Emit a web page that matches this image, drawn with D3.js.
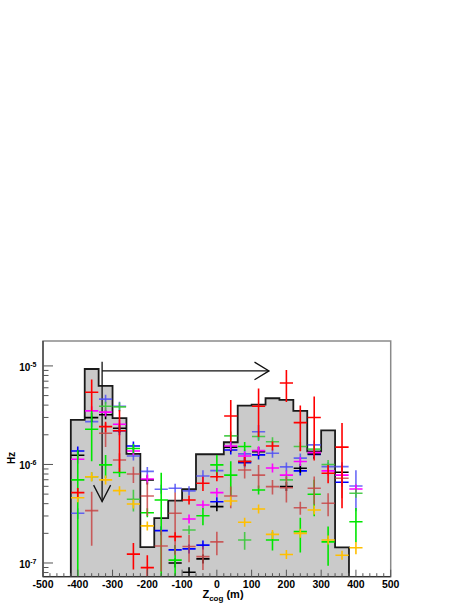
<!DOCTYPE html>
<html><head><meta charset="utf-8">
<script src="https://cdn.jsdelivr.net/npm/d3@7"></script>
<style>body{margin:0;background:#fff}svg{display:block}</style>
</head><body><svg id="c" width="469" height="607"></svg>
<script>
// ---------- data ----------
const binEdges = [-420,-380,-340,-300,-260,-220,-180,-140,-100,-60,-20,20,60,100,140,180,220,260,300,340,380];
const histValues = [2.83e-6,9.3e-6,6.27e-6,2.95e-6,1.28e-6,1.45e-7,2.86e-7,4.29e-7,5.6e-7,1.27e-6,1.27e-6,1.68e-6,3.95e-6,4.05e-6,4.7e-6,4.52e-6,3.5e-6,1.36e-6,2.22e-6,1.44e-7];
const centers = [-400,-360,-320,-280,-240,-200,-160,-120,-80,-40,0,40,80,120,160,200,240,280,320,360,400];
const halfWidth = 19;
const xTicks = [-500,-400,-300,-200,-100,0,100,200,300,400,500];
const yTickExps = [-7,-6,-5];

const blackVals = [1.24e-6,2.99e-6,3.2e-6,2.33e-6,null,6.97e-7,null,1.0e-7,8.05e-8,1.1e-7,3.73e-7,1.5e-6,1.07e-6,1.35e-6,null,5.96e-7,9.15e-7,1.28e-6,null,8.34e-7,null];
const blackErr  = [0.06e-6,0.15e-6,0.15e-6,0.1e-6,null,0.3e-7,null,0.08e-7,0.1e-7,0.08e-7,0.2e-7,0.08e-6,0.05e-6,0.06e-6,null,0.3e-7,0.4e-7,0.06e-6,null,0.4e-7,null];

const magentaVals = [1.13e-6,3.5e-6,3.4e-6,2.56e-6,1.37e-6,7.13e-7,null,null,2.8e-7,3.88e-7,5.18e-7,1.54e-6,1.22e-6,1.38e-6,9.2e-7,7.8e-7,1.07e-6,1.32e-6,8.6e-7,7.8e-7,5.64e-7];
const magentaErr  = [0.06e-6,0.15e-6,0.15e-6,0.1e-6,0.07e-6,0.3e-7,null,null,0.15e-7,0.2e-7,0.25e-7,0.08e-6,0.06e-6,0.07e-6,0.4e-7,0.4e-7,0.05e-6,0.06e-6,0.4e-7,0.4e-7,0.3e-7];

const blueVals = [1.37e-6,null,null,2.2e-6,1.54e-6,null,2.13e-7,1.36e-7,1.39e-7,1.52e-7,4.19e-7,1.4e-6,1.04e-6,1.25e-6,null,null,8.6e-7,1.26e-6,null,6.6e-7,null];
const blueErr  = [0.07e-6,null,null,0.1e-6,0.07e-6,null,0.1e-7,0.07e-7,0.07e-7,0.08e-7,0.2e-7,0.07e-6,0.05e-6,0.06e-6,null,null,0.4e-7,0.06e-6,null,0.3e-7,null];

const lightBlueVals = [3.2e-7,2.72e-6,4.6e-6,3.9e-6,1.22e-6,8.5e-7,5.6e-7,5.73e-7,5.4e-7,7.64e-7,8.65e-7,null,1.28e-6,2.15e-6,1.3e-6,9.45e-7,1.16e-6,1.58e-6,9.5e-7,9.5e-7,6.05e-7];
const lightBlueErr  = [0.4e-7,0.33e-6,0.3e-6,0.4e-6,0.1e-6,0.5e-7,0.3e-7,0.3e-7,0.3e-7,1.1e-7,0.6e-7,null,0.1e-6,0.37e-6,0.1e-6,0.6e-7,0.1e-6,0.12e-6,0.6e-7,1.0e-7,2.7e-7];

const redVals = [5.18e-7,5.4e-6,2.42e-6,2.2e-6,1.23e-7,8.97e-8,null,1.85e-7,4.36e-7,6.44e-7,7.5e-7,3.1e-6,1.07e-6,3.9e-6,1.54e-6,6.7e-6,2.66e-6,3.0e-6,8.15e-7,1.5e-6,null];
const redErr  = [0.2e-7,1.9e-6,0.3e-6,1.36e-6,0.37e-7,0.3e-7,null,0.1e-7,0.3e-7,1.06e-7,0.4e-7,1.4e-6,0.06e-6,2.0e-6,0.08e-6,2.4e-6,1.3e-6,1.9e-6,1.7e-7,1.14e-6,null];

const darkRedVals = [null,3.4e-7,2.07e-6,1.11e-6,8.0e-7,4.79e-7,1.49e-7,3.2e-7,1.47e-7,1.16e-7,1.64e-7,4.79e-7,8.8e-7,7.8e-7,5.96e-7,5.8e-7,3.64e-7,5.73e-7,4.04e-7,7.24e-7,null];
const darkRedErr  = [null,1.9e-7,0.57e-6,0.19e-6,1.5e-7,1.8e-7,0.67e-7,2.0e-7,0.45e-7,0.31e-7,0.44e-7,1.2e-7,1.6e-7,2.1e-7,1.0e-7,1.7e-7,0.55e-7,1.8e-7,1.06e-7,2.7e-7,null];

const greenVals = [6.97e-7,2.28e-6,9.9e-7,8.3e-7,1.45e-6,3.24e-7,4.36e-7,1.07e-7,null,3.02e-7,9.9e-7,7.8e-7,1.52e-6,5.5e-7,1.71e-7,null,2.08e-7,4.98e-7,1.64e-7,null,2.62e-7];
const greenErr  = [7e-7,1.2e-6,0.26e-6,0.5e-7,0.15e-6,0.3e-7,3.9e-7,0.45e-7,null,0.6e-7,0.26e-6,3e-7,0.1e-6,0.5e-7,0.37e-7,null,0.8e-7,2e-7,0.7e-7,null,1.0e-7];

const lightGreenVals = [null,7.5e-7,3.9e-6,3.84e-6,4.43e-7,null,null,null,2.16e-7,null,null,1.95e-6,1.71e-7,1.92e-6,1.7e-6,6.97e-7,1.52e-6,1.43e-6,1.0e-6,null,5.1e-7];
const lightGreenErr  = [null,0.4e-7,0.2e-6,0.4e-6,1.1e-7,null,null,null,0.2e-7,null,null,0.12e-6,0.35e-7,0.1e-6,0.1e-6,0.4e-7,0.1e-6,0.1e-6,0.06e-6,null,0.4e-7];

const yellowVals = [4.6e-7,7.5e-7,6.97e-7,5.42e-7,3.97e-7,2.38e-7,null,null,null,null,null,4.26e-7,2.59e-7,3.53e-7,1.95e-7,1.22e-7,2.0e-7,3.45e-7,1.71e-7,1.2e-7,1.43e-7];
const yellowErr  = [0.2e-7,0.3e-7,0.4e-7,0.2e-7,0.2e-7,0.1e-7,null,null,null,null,null,0.2e-7,0.15e-7,0.2e-7,0.15e-7,0.1e-7,0.15e-7,0.2e-7,0.1e-7,0.1e-7,0.2e-7];

const arrowX = [-330, 150];          // vertical arrow at x, horizontal arrow to x
const arrowVertY = [1.1e-5, 4.2e-7]; // vertical arrow from .. to
const arrowHorY = 8.9e-6;

// ---------- drawing ----------
const series = [
  {v: lightBlueVals, e: lightBlueErr, c: "#5050f5", o: 0.85},
  {v: blueVals, e: blueErr, c: "#0000ff", o: 1},
  {v: blackVals, e: blackErr, c: "#000000", o: 1},
  {v: magentaVals, e: magentaErr, c: "#ff00ff", o: 1},
  {v: lightGreenVals, e: lightGreenErr, c: "#3cc83c", o: 0.9},
  {v: greenVals, e: greenErr, c: "#00e600", o: 1},
  {v: darkRedVals, e: darkRedErr, c: "#c84646", o: 0.85},
  {v: yellowVals, e: yellowErr, c: "#ffbf00", o: 1},
  {v: redVals, e: redErr, c: "#ff0000", o: 1}
];

const L = 43, R = 390.7, T = 341, B = 576.7;
const yMin = 7.26e-8, yMax = 1.79e-5;
const x = d3.scaleLinear().domain([-500, 500]).range([L, R]);
const y = d3.scaleLog().domain([yMin, yMax]).range([B, T]);

const svg = d3.select("#c");
svg.append("defs").append("clipPath").attr("id", "clip")
  .append("rect").attr("x", L).attr("y", T).attr("width", R - L).attr("height", B - T);

const plot = svg.append("g").attr("clip-path", "url(#clip)");

// histogram
let pts = [[x(binEdges[0]), B]];
histValues.forEach((v, i) => {
  pts.push([x(binEdges[i]), y(v)]);
  pts.push([x(binEdges[i + 1]), y(v)]);
});
pts.push([x(binEdges[binEdges.length - 1]), B]);
plot.append("path").attr("d", d3.line()(pts) + "Z")
  .attr("fill", "#cacaca").attr("stroke", "none");
plot.append("path").attr("d", d3.line()(pts))
  .attr("fill", "none").attr("stroke", "#1a1a1a").attr("stroke-width", 1.8)
  .attr("stroke-linejoin", "miter");

// arrows
const ax = x(arrowX[0]);
const ay0 = y(arrowVertY[0]), ay1 = y(arrowVertY[1]);
const hy = y(arrowHorY), hx = x(arrowX[1]);
const ag = plot.append("g").attr("stroke", "#111").attr("stroke-width", 1.3).attr("fill", "none");
ag.append("line").attr("x1", ax).attr("x2", ax).attr("y1", ay0).attr("y2", ay1);
ag.append("path").attr("d", d3.line()([[ax - 8.5, ay1 - 16.5], [ax, ay1], [ax + 8.5, ay1 - 16.5]]));
ag.append("line").attr("x1", ax).attr("x2", hx).attr("y1", hy).attr("y2", hy);
ag.append("path").attr("d", d3.line()([[hx - 14.5, hy - 8.8], [hx, hy], [hx - 14.5, hy + 8.8]]));

// points with error bars
series.forEach(s => {
  const g = plot.append("g").attr("stroke", s.c).attr("stroke-opacity", s.o).attr("stroke-width", 1.6);
  s.v.forEach((v, i) => {
    if (v == null) return;
    const c = centers[i], err = s.e[i] || 0;
    const yc = y(v);
    g.append("line").attr("x1", x(c - halfWidth)).attr("x2", x(c + halfWidth)).attr("y1", yc).attr("y2", yc);
    const lo = v - err > yMin ? y(v - err) : B + 2;
    const hi = y(Math.min(v + err, yMax * 2));
    g.append("line").attr("x1", x(c)).attr("x2", x(c)).attr("y1", Math.max(lo, yc + 4.5)).attr("y2", Math.min(hi, yc - 4.5));
  });
});

// frame
svg.append("rect").attr("x", L).attr("y", T).attr("width", R - L).attr("height", B - T)
  .attr("fill", "none").attr("stroke", "#8a8a8a").attr("stroke-width", 1.5);
svg.append("line").attr("x1", L).attr("x2", L).attr("y1", T).attr("y2", B).attr("stroke", "#333").attr("stroke-width", 1.2);
svg.append("line").attr("x1", L).attr("x2", R).attr("y1", B).attr("y2", B).attr("stroke", "#333").attr("stroke-width", 1.2);

// x ticks
const tg = svg.append("g").attr("stroke", "#555").attr("stroke-width", 1);
d3.range(-500, 501, 20).forEach(t => {
  const major = t % 100 === 0;
  tg.append("line").attr("x1", x(t)).attr("x2", x(t)).attr("y1", B).attr("y2", B - (major ? 7 : 3.5));
});
// y ticks
yTickExps.forEach(e => {
  for (let m = 1; m < 10; m++) {
    const v = m * Math.pow(10, e);
    if (v < yMin || v > yMax) continue;
    tg.append("line").attr("x1", L).attr("x2", L + (m === 1 ? 10 : 5.5)).attr("y1", y(v)).attr("y2", y(v));
  }
});
for (let m = 8; m < 10; m++) {
  const v = m * 1e-8;
  if (v >= yMin) tg.append("line").attr("x1", L).attr("x2", L + 5.5).attr("y1", y(v)).attr("y2", y(v));
}

const font = "'Liberation Sans', Arial, Helvetica, sans-serif";
// x tick labels
svg.append("g").selectAll("text").data(xTicks).join("text")
  .attr("x", d => x(d)).attr("y", 588).attr("text-anchor", "middle")
  .attr("font-family", font).attr("font-weight", "bold").attr("font-size", 10.5)
  .text(d => d);

// y tick labels
yTickExps.forEach(e => {
  const t = svg.append("text").attr("x", 36.5).attr("y", y(Math.pow(10, e)) + 5)
    .attr("text-anchor", "end").attr("font-family", font).attr("font-weight", "bold").attr("font-size", 10);
  t.append("tspan").text("10");
  t.append("tspan").attr("dy", -4).attr("font-size", 7).text(String(e));
});

// axis titles
svg.append("text").attr("transform", "translate(15,458) rotate(-90)")
  .attr("text-anchor", "middle").attr("font-family", font).attr("font-weight", "bold").attr("font-size", 10)
  .text("Hz");

const xt = svg.append("text").attr("x", 223).attr("y", 598).attr("text-anchor", "middle")
  .attr("font-family", font).attr("font-weight", "bold").attr("font-size", 11);
xt.append("tspan").text("Z");
xt.append("tspan").attr("dy", 3).attr("font-size", 8).text("cog");
xt.append("tspan").attr("dy", -3).text(" (m)");
</script>
</body></html>
